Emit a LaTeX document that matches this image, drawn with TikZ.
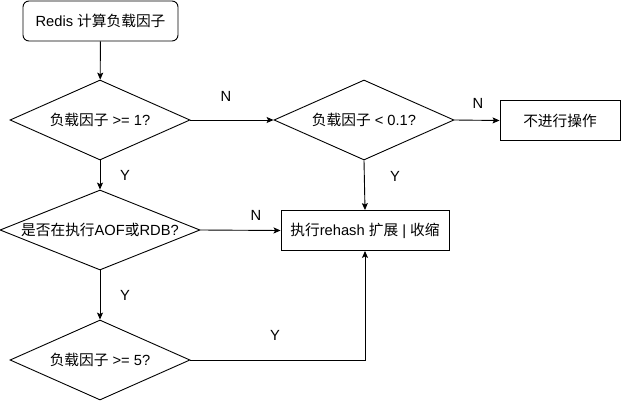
\documentclass[tikz,border=0pt]{standalone}
\usepackage{fontspec}
\setmainfont{Liberation Sans}
\newfontfamily\cjk{Noto Sans CJK SC}
\usetikzlibrary{shapes.geometric,arrows.meta}
\begin{document}
\begin{tikzpicture}[x=1pt,y=-1pt,
  every node/.style={font=\fontsize{14.7}{16}\selectfont},
  box/.style={draw,line width=0.9pt,inner sep=0pt,minimum width=#1,minimum height=40pt},
  dia/.style={draw,diamond,line width=0.9pt,inner sep=0pt,minimum width=#1,minimum height=80pt},
  conn/.style={line width=0.9pt,-{Stealth[length=7pt,width=6pt,inset=1.5pt]}},
  lbl/.style={inner sep=0pt}]
\useasboundingbox (0,0) rectangle (621,401);
\node[box=155pt,rounded corners=6pt] (start) at (100.5,21) {Redis {\cjk 计算负载因子}};
\node[dia=180pt,label={center:{\cjk 负载因子} >= 1?}] (d1) at (100,120) {};
\node[dia=180pt,label={center:{\cjk 负载因子} < 0.1?}] (d2) at (364,120) {};
\node[box=120pt] (noop) at (560,120.5) {\cjk 不进行操作};
\node[box=168pt] (rehash) at (365,230.5) {{\cjk 执行}rehash {\cjk 扩展} | {\cjk 收缩}};
\node[dia=200pt,label={center:{\cjk 是否在执行}AOF{\cjk 或}RDB?}] (d3) at (100,230) {};
\node[dia=180pt,label={center:{\cjk 负载因子} >= 5?}] (d4) at (100,360) {};
\draw[conn] (start) -- (d1);
\draw[conn] (d1.east) -- (d2.west);
\draw[conn] (d2.east) -- (noop.west);
\draw[conn] (d2.south) -- (rehash.north);
\draw[conn] (d1.south) -- (d3.north);
\draw[conn] (d3.east) -- (rehash.west);
\draw[conn] (d3.south) -- (d4.north);
\draw[conn] (d4.east) -| (rehash.south);
\node[lbl] (n1) at (226,96) {N};
\node[lbl] (n2) at (478,103) {N};
\node[lbl] (y1) at (395,176) {Y};
\node[lbl] (y2) at (125,175) {Y};
\node[lbl] (n3) at (256,215) {N};
\node[lbl] (y3) at (125,295) {Y};
\node[lbl] (y4) at (275,335) {Y};
\end{tikzpicture}
\end{document}
